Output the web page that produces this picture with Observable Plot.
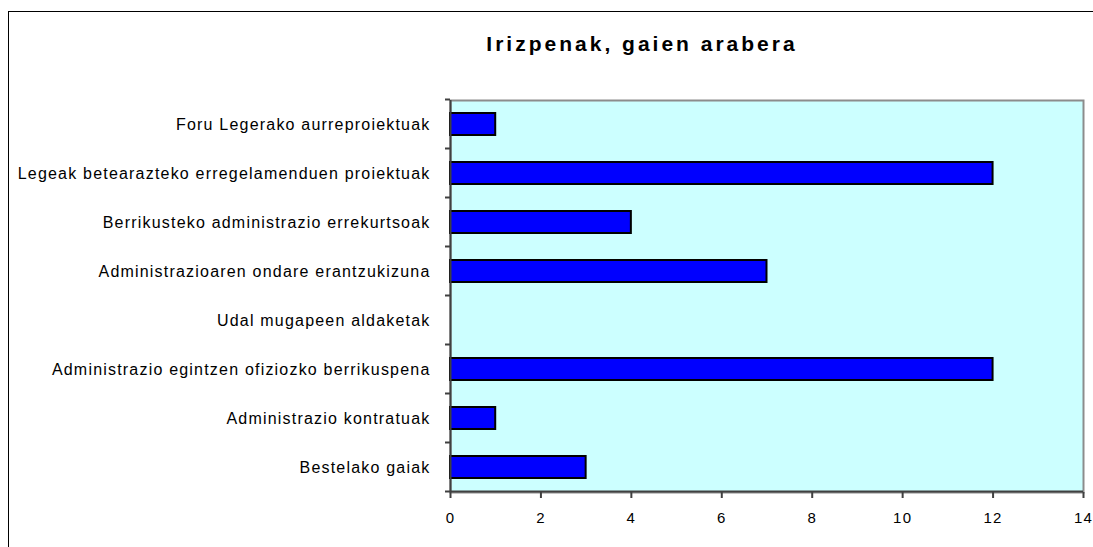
<!DOCTYPE html>
<html>
<head>
<meta charset="utf-8">
<script src="https://cdn.jsdelivr.net/npm/d3@7"></script>
<script src="https://cdn.jsdelivr.net/npm/@observablehq/plot@0.6"></script>
<style>
  html, body { margin: 0; padding: 0; background: #fff; overflow: hidden; width: 1093px; height: 547px; }
  #wrap { position: relative; width: 1093px; height: 547px; overflow: hidden; }
  #bl { position: absolute; left: 8px; top: 11px; width: 1px; height: 600px; background: #000; }
  #bt { position: absolute; left: 8px; top: 11px; width: 1085px; height: 1px; background: #000; }
  #title { position: absolute; left: 0; width: 1284px; top: 32px; text-align: center; font: bold 21px Arial, "Liberation Sans", sans-serif; letter-spacing: 3px; color: #000; }
  #chart { position: absolute; left: 0; top: 0; width: 1093px; height: 547px; }
  #chart svg { display: block; }
  #chart svg text { letter-spacing: 1.2px; }
</style>
</head>
<body>
<div id="wrap">
  <div id="chart"></div>
  <div id="bl"></div>
  <div id="bt"></div>
  <div id="title">Irizpenak, gaien arabera</div>
</div>
<script>
const categories = [
  "Foru Legerako aurreproiektuak",
  "Legeak betearazteko erregelamenduen proiektuak",
  "Berrikusteko administrazio errekurtsoak",
  "Administrazioaren ondare erantzukizuna",
  "Udal mugapeen aldaketak",
  "Administrazio egintzen ofiziozko berrikuspena",
  "Administrazio kontratuak",
  "Bestelako gaiak"
];
const values = [1, 12, 4, 7, 0, 12, 1, 3];
const xTicks = [0, 2, 4, 6, 8, 10, 12, 14];

const data = categories.map((c, i) => ({cat: c, value: values[i]}));

const chart = Plot.plot({
  width: 1093,
  height: 547,
  marginLeft: 450,
  marginRight: 10,
  marginTop: 100,
  marginBottom: 55,
  style: {fontFamily: 'Arial, "Liberation Sans", sans-serif', fontSize: "15px", color: "#000", background: "transparent"},
  x: {domain: [0, 14], ticks: xTicks, label: null},
  y: {domain: categories, paddingInner: 0.55, paddingOuter: 0.275, label: null},
  marks: [
    Plot.frame({fill: "#CCFFFF", stroke: "#8c8c8c", strokeWidth: 2}),
    Plot.barX(data, {x: "value", y: "cat", fill: "#0000FF", stroke: "#000", strokeWidth: 2}),
    Plot.ruleX([0], {stroke: "#404040", strokeWidth: 2}),
    Plot.axisX({ticks: xTicks, tickSize: 6, tickPadding: 14, stroke: "#404040", strokeWidth: 2, fontSize: 15, label: null}),
    Plot.axisY({tickSize: 0, tickPadding: 20, fontSize: 16, label: null})
  ]
});

// band-boundary tick marks on the y axis and the dark bottom axis line, from the chart's own scales
const ys = chart.scale("y");
const xs = chart.scale("x");
const step = ys.step;
const centers = categories.map(c => ys.apply(c) + ys.bandwidth / 2);
const bounds = [centers[0] - step / 2, ...centers.map(c => c + step / 2)];
const x0 = xs.apply(xs.domain[0]);
const x1 = xs.apply(xs.domain[1]);
const g = d3.select(chart).append("g").attr("stroke", "#404040").attr("stroke-width", 2);
g.selectAll("line.t").data(bounds).join("line").attr("class", "t")
  .attr("x1", x0 - 5).attr("x2", x0).attr("y1", d => d).attr("y2", d => d);
g.append("line").attr("x1", x0).attr("x2", x1)
  .attr("y1", bounds[bounds.length - 1]).attr("y2", bounds[bounds.length - 1]);

document.getElementById("chart").appendChild(chart);
</script>
</body>
</html>
